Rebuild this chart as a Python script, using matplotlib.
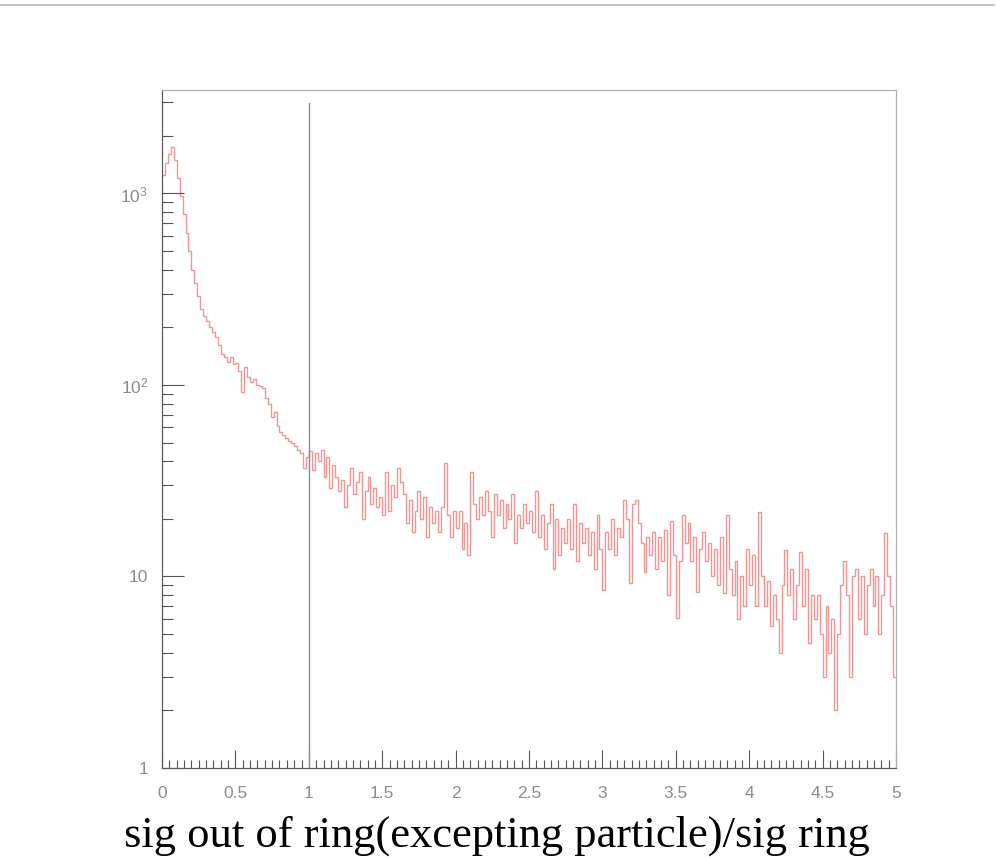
import numpy as np
import matplotlib.pyplot as plt
from matplotlib.lines import Line2D
from matplotlib.ticker import MultipleLocator, FixedLocator, LogLocator, NullFormatter

# === Histogram content (250 bins, width 0.02) ===
bin_lo, bin_hi, n_bins = 0.0, 5.0, 250
counts = [
    # 0.0 - 1.0
    1250, 1450, 1600, 1750, 1500, 1210, 975, 785, 620, 500,
    400, 340, 290, 250, 230, 215, 200, 188, 178, 162,
    145, 140, 132, 140, 128, 130, 118, 92, 124, 110,
    104, 108, 100, 99, 97, 86, 80, 68, 72, 61,
    57, 55, 53, 51, 50, 48, 46, 44, 37, 42,
    # 1.0 - 2.0
    45, 36, 44, 40, 46, 33, 42, 29, 38, 33,
    28, 32, 23, 30, 37, 27, 31, 35, 20, 28,
    33, 24, 29, 23, 26, 21, 35, 22, 30, 26,
    37, 31, 27, 19, 25, 17, 22, 28, 20, 26,
    16, 23, 19, 22, 17, 23, 39, 21, 16, 22,
    # 2.0 - 3.0
    18, 22, 14, 19, 13, 35, 24, 20, 26, 21,
    28, 22, 16, 27, 21, 25, 18, 24, 20, 27,
    15, 21, 18, 24, 19, 22, 17, 28, 16, 21,
    14, 19, 24, 11, 20, 13, 18, 15, 20, 14,
    24, 12, 19, 15, 18, 13, 17, 11, 21, 14,
    # 3.0 - 4.0
    8.5, 17, 14, 20, 13, 18, 16, 25, 20, 9.2,
    24, 25, 19, 15, 10.5, 16, 13, 17, 11, 16,
    12, 17.5, 8, 19.5, 13, 6.1, 12, 21, 15, 19,
    12, 16, 8.3, 14, 17, 12, 15, 10, 14, 9,
    16, 8.2, 21, 11, 8, 12, 6, 10, 7, 14,
    # 4.0 - 5.0
    9, 13, 7, 21.7, 10, 7, 9.5, 5.5, 8, 6,
    4, 9, 13.7, 8, 11, 6, 9, 13.5, 7, 11,
    4.5, 8, 6, 8, 5, 3, 7, 4, 6, 2,
    5, 9, 12, 8, 3, 10, 11, 6, 10, 5,
    9, 11, 7, 10, 5, 8, 16.8, 10, 7, 3,
]
edges = np.linspace(bin_lo, bin_hi, n_bins + 1)

# cut line drawn on the histogram
cut_x = 1.0
cut_top = 2970

y_lo, y_hi = 1, 3470
x_title = "sig out of ring(excepting particle)/sig ring"

# === Figure ===
fig = plt.figure(figsize=(9.96, 8.58), dpi=100)
ax = fig.add_axes([0.1627, 0.1049, 0.7369, 0.7902])

ax.stairs(counts, edges, color="#f09595", linewidth=1.0, baseline=None)
ax.plot([cut_x, cut_x], [y_lo, cut_top], color="#8a8a8a", linewidth=1.0)

ax.set_yscale("log")
ax.set_xlim(bin_lo, bin_hi)
ax.set_ylim(y_lo, y_hi)

# ticks (ROOT style: inward)
label_color = "#8c8c8c"
ax.xaxis.set_major_locator(MultipleLocator(0.5))
ax.xaxis.set_minor_locator(MultipleLocator(0.05))
ax.xaxis.set_major_formatter(plt.FuncFormatter(lambda v, p: f"{v:g}"))
ax.yaxis.set_major_locator(FixedLocator([1, 10, 100, 1000]))
ax.yaxis.set_minor_locator(LogLocator(base=10, subs=np.arange(2, 10)))
ax.yaxis.set_minor_formatter(NullFormatter())
ax.set_yticklabels(["1", "10", r"$\mathregular{10^2}$", r"$\mathregular{10^3}$"])

ax.tick_params(axis="both", which="both", direction="in", colors="#555555",
               labelcolor=label_color, labelsize=12.5, width=0.8)
ax.tick_params(axis="y", which="major", length=16, pad=10)
ax.tick_params(axis="y", which="minor", length=8)
ax.tick_params(axis="x", which="major", length=13, pad=13)
ax.tick_params(axis="x", which="minor", length=6)
ax.tick_params(top=False, right=False)
for lbl in ax.get_xticklabels() + ax.get_yticklabels():
    lbl.set_family("Liberation Sans")

for side in ["left", "bottom", "top", "right"]:
    ax.spines[side].set_color("#5a5a5a")
    ax.spines[side].set_linewidth(0.9)
ax.spines["top"].set_color("#b0b0b0")
ax.spines["right"].set_color("#b0b0b0")

fig.text(0.499, 0.013, x_title, family="Liberation Serif", fontsize=32,
         color="black", ha="center", va="baseline")

# thin frame line at the top of the canvas
fig.add_artist(Line2D([0.0, 0.998], [0.9945, 0.9945], color="#b5b5b5", linewidth=1.2))

fig.savefig("out.png", dpi=100)
